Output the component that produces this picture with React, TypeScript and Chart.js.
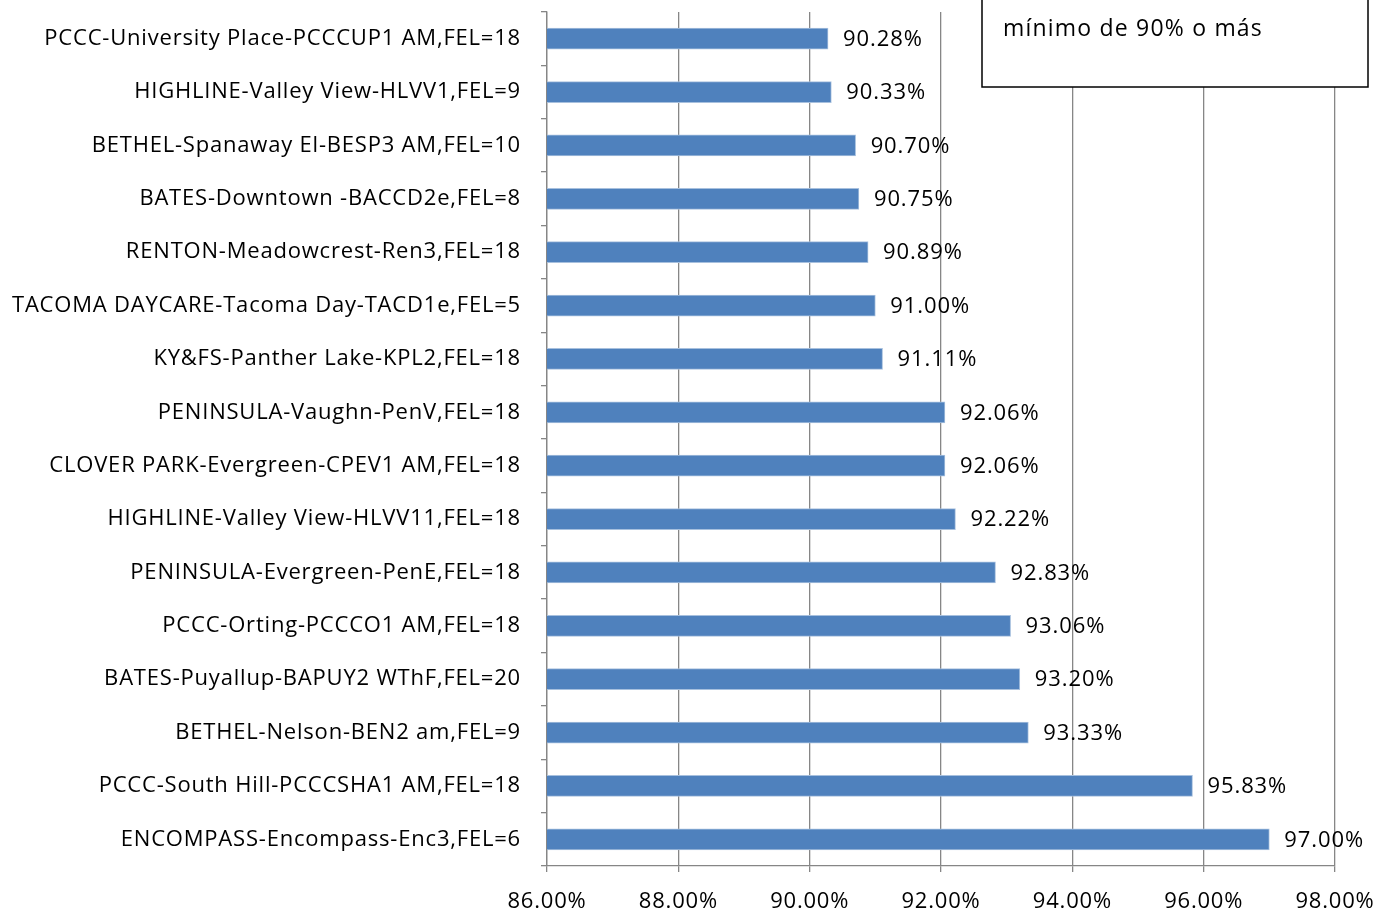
import React, { useEffect, useRef } from "react";
import { Chart, registerables } from "chart.js";

Chart.register(...registerables);

const categories: string[] = [
  "PCCC-University Place-PCCCUP1 AM,FEL=18",
  "HIGHLINE-Valley View-HLVV1,FEL=9",
  "BETHEL-Spanaway El-BESP3 AM,FEL=10",
  "BATES-Downtown -BACCD2e,FEL=8",
  "RENTON-Meadowcrest-Ren3,FEL=18",
  "TACOMA DAYCARE-Tacoma Day-TACD1e,FEL=5",
  "KY&FS-Panther Lake-KPL2,FEL=18",
  "PENINSULA-Vaughn-PenV,FEL=18",
  "CLOVER PARK-Evergreen-CPEV1 AM,FEL=18",
  "HIGHLINE-Valley View-HLVV11,FEL=18",
  "PENINSULA-Evergreen-PenE,FEL=18",
  "PCCC-Orting-PCCCO1 AM,FEL=18",
  "BATES-Puyallup-BAPUY2 WThF,FEL=20",
  "BETHEL-Nelson-BEN2 am,FEL=9",
  "PCCC-South Hill-PCCCSHA1 AM,FEL=18",
  "ENCOMPASS-Encompass-Enc3,FEL=6",
];

const values: number[] = [
  90.28, 90.33, 90.7, 90.75, 90.89, 91.0, 91.11, 92.06, 92.06, 92.22, 92.83, 93.06, 93.2, 93.33,
  95.83, 97.0,
];

const xTicks: number[] = [86, 88, 90, 92, 94, 96, 98];
const boxText = "mínimo de 90% o más";

const FONT = "'Open Sans', 'Noto Sans', sans-serif";

export default function App() {
  const ref = useRef<HTMLCanvasElement | null>(null);

  useEffect(() => {
    if (!ref.current) return;

    const labelPlugin = {
      id: "valueLabels",
      beforeDraw(chart: any) {
        (chart.ctx as any).letterSpacing = "0.8px";
      },
      afterDatasetsDraw(chart: any) {
        const ctx = chart.ctx;
        const meta = chart.getDatasetMeta(0);
        ctx.save();
        ctx.font = `22px ${FONT}`;
        ctx.letterSpacing = "0.9px";
        ctx.fillStyle = "#000";
        ctx.textAlign = "left";
        ctx.textBaseline = "middle";
        meta.data.forEach((bar: any, i: number) => {
          ctx.fillText(values[i].toFixed(2) + "%", bar.x + 15, bar.y + 1);
        });
        ctx.restore();
      },
      afterDraw(chart: any) {
        const ctx = chart.ctx;
        ctx.save();
        ctx.fillStyle = "#fff";
        ctx.fillRect(982, -2, 386, 89);
        ctx.strokeStyle = "#000";
        ctx.lineWidth = 1.5;
        ctx.strokeRect(982, -2, 386, 89);
        ctx.fillStyle = "#000";
        ctx.font = `23px ${FONT}`;
        ctx.letterSpacing = "1.2px";
        ctx.textAlign = "left";
        ctx.textBaseline = "alphabetic";
        ctx.fillText(boxText, 1003, 36);
        ctx.restore();
      },
    };

    const chart = new Chart(ref.current, {
      type: "bar",
      data: {
        labels: categories,
        datasets: [
          {
            data: values,
            backgroundColor: "#4F81BD",
            borderColor: "#A7C0DE",
            borderWidth: 1,
            borderSkipped: false,
            barThickness: 21,
          },
        ],
      },
      options: {
        indexAxis: "y",
        animation: false,
        responsive: false,
        maintainAspectRatio: false,
        layout: { padding: { top: 12, right: 43, bottom: 0, left: 0 } },
        plugins: {
          legend: { display: false },
          tooltip: { enabled: false },
        },
        scales: {
          x: {
            type: "linear",
            min: 86,
            max: 98,
            afterBuildTicks(scale: any) {
              scale.ticks = xTicks.map((v) => ({ value: v }));
            },
            afterFit(scale: any) {
              scale.height = 47;
              scale.paddingLeft = 0;
              scale.paddingRight = 0;
            },
            ticks: {
              callback: (v: any) => Number(v).toFixed(2) + "%",
              font: { family: FONT, size: 22 },
              color: "#000",
              padding: 17,
              maxRotation: 0,
              autoSkip: false,
            },
            grid: {
              color: "#868686",
              lineWidth: 1.3,
              tickLength: 6,
              drawTicks: true,
            },
            border: { color: "#868686", width: 1.3 },
          },
          y: {
            type: "category",
            afterFit(scale: any) {
              scale.width = 547;
              scale.paddingTop = 0;
              scale.paddingBottom = 0;
            },
            ticks: {
              font: { family: FONT, size: 22 },
              color: "#000",
              padding: 20,
              autoSkip: false,
            },
            grid: {
              offset: true,
              drawOnChartArea: false,
              drawTicks: true,
              tickLength: 6,
              color: "#868686",
              lineWidth: 1.3,
            },
            border: { color: "#868686", width: 1.3 },
          },
        },
      },
      plugins: [labelPlugin],
    });

    return () => chart.destroy();
  }, []);

  return (
    <div style={{ position: "fixed", left: 0, top: 0, width: 1378, height: 913, background: "#fff" }}>
      <canvas ref={ref} width={1378} height={913} style={{ display: "block" }} />
    </div>
  );
}
